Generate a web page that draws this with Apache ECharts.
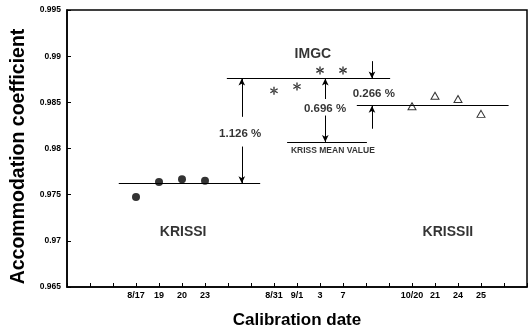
<!DOCTYPE html>
<html>
<head>
<meta charset="utf-8">
<script src="https://cdn.jsdelivr.net/npm/echarts@6/dist/echarts.min.js"></script>
<style>
  html, body {margin: 0; padding: 0; background: #fff;}
  #chart {width: 532px; height: 334px;}
</style>
</head>
<body>
<div id="chart"></div>
<script>
// x axis: one tick per calibration slot, only some are labelled
const xTickLabels = ['', '', '', '8/17', '19', '20', '23', '', '', '8/31', '9/1', '3', '7', '', '', '10/20', '21', '24', '25', '', ''];

const krissiX = [3, 4, 5, 6];
const krissiY = [0.97475, 0.97636, 0.97668, 0.97650];
const imgcX = [9, 10, 11, 12];
const imgcY = [0.98625, 0.98672, 0.98846, 0.98846];
const krissiiX = [15, 16, 17, 18];
const krissiiY = [0.98458, 0.98571, 0.98536, 0.98375];

// mean values and the span of each mean line
const meanNames = ['KRISSI', 'IMGC', 'KRISSII', 'KRISS'];
const meanValues = [0.97625, 0.98757, 0.98464, 0.98071];
const meanFrom = [2.25, 6.95, 12.6, 9.57];
const meanTo = [8.4, 14.05, 19.2, 13.04];

// difference arrows: x, start, end (arrow head at end)
const arrowX = [7.6, 7.6, 11.23, 11.23, 13.26, 13.26];
const arrowFrom = [0.98343, 0.98021, 0.98536, 0.98357, 0.98946, 0.98214];
const arrowTo = [0.98757, 0.97625, 0.98757, 0.98071, 0.98757, 0.98464];

const noteText = ['IMGC', 'KRISSI', 'KRISSII', 'KRISS MEAN VALUE', '1.126 %', '0.696 %', '0.266 %'];
const noteX = [10.69, 5.05, 16.56, 11.56, 7.53, 11.22, 13.34];
const noteY = [0.99018, 0.97089, 0.97089, 0.97979, 0.98161, 0.98429, 0.98589];
const noteSize = [14, 14, 14, 8.5, 11.5, 11.5, 11.5];

const font = 'Liberation Sans, Arial, Helvetica, sans-serif';
// six-armed asterisk
const star = 'path://M4.2 0L5.8 0L5.8 10L4.2 10Z M0.27 3.19L8.93 8.19L9.73 6.81L1.07 1.81Z M1.07 8.19L9.73 3.19L8.93 1.81L0.27 6.81Z';

const zip = (xs, ys) => xs.map((x, i) => [x, ys[i]]);

const chart = echarts.init(document.getElementById('chart'));
chart.setOption({
  animation: false,
  backgroundColor: '#fff',
  grid: {left: 67, right: 5, top: 10, bottom: 44, show: true, borderColor: '#000', borderWidth: 1.5},
  xAxis: {
    type: 'value', min: 0, max: 20, interval: 1,
    name: 'Calibration date', nameLocation: 'middle', nameGap: 25,
    nameTextStyle: {fontFamily: font, fontWeight: 'bold', fontSize: 17, color: '#000'},
    axisLine: {lineStyle: {color: '#000', width: 1.5}},
    axisTick: {inside: true, length: 4, lineStyle: {color: '#000'}},
    splitLine: {show: false},
    axisLabel: {
      margin: 4, color: '#000', fontFamily: font, fontWeight: 'bold', fontSize: 9,
      formatter: v => xTickLabels[Math.round(v)] || ''
    }
  },
  yAxis: {
    type: 'value', min: 0.965, max: 0.995, interval: 0.005,
    name: 'Accommodation coefficient', nameLocation: 'middle', nameGap: 33,
    nameTextStyle: {fontFamily: font, fontWeight: 'bold', fontSize: 19.5, color: '#000', padding: [0, 16, 0, 0]},
    axisLine: {lineStyle: {color: '#000', width: 1.5}},
    axisTick: {inside: true, length: 4, lineStyle: {color: '#000'}},
    splitLine: {show: false},
    axisLabel: {
      margin: 6, color: '#000', fontFamily: font, fontWeight: 'bold', fontSize: 8.5,
      formatter: v => String(+v.toFixed(3))
    }
  },
  series: [
    {
      name: 'KRISSI', type: 'scatter', data: zip(krissiX, krissiY),
      symbol: 'circle', symbolSize: 8, itemStyle: {color: '#000'}
    },
    {
      name: 'IMGC', type: 'scatter', data: zip(imgcX, imgcY),
      symbol: star, symbolSize: 8, itemStyle: {color: '#000'}
    },
    {
      name: 'KRISSII', type: 'scatter', data: zip(krissiiX, krissiiY),
      symbol: 'triangle', symbolSize: [8, 7],
      itemStyle: {color: '#fff', borderColor: '#000', borderWidth: 1}
    },
    {
      name: 'lines', type: 'line', data: [],
      markLine: {
        silent: true, animation: false,
        label: {show: false},
        lineStyle: {color: '#000', width: 1, type: 'solid'},
        data: [
          ...meanValues.map((v, i) => [
            {coord: [meanFrom[i], v], symbol: 'none'},
            {coord: [meanTo[i], v], symbol: 'none'}
          ]),
          ...arrowX.map((x, i) => [
            {coord: [x, arrowFrom[i]], symbol: 'none'},
            {coord: [x, arrowTo[i]], symbol: 'arrow', symbolSize: [5, 7]}
          ])
        ]
      }
    },
    {
      name: 'notes', type: 'scatter', symbolSize: 0, silent: true,
      data: noteText.map((t, i) => ({
        value: [noteX[i], noteY[i]],
        label: {
          show: true, position: 'inside', formatter: t,
          fontFamily: font, fontWeight: 'bold', fontSize: noteSize[i], color: '#000'
        }
      }))
    }
  ]
});
</script>
</body>
</html>
